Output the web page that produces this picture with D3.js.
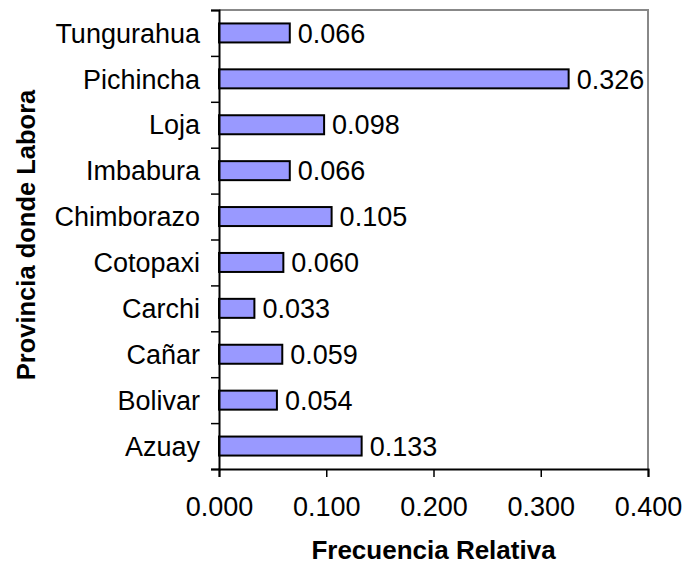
<!DOCTYPE html>
<html>
<head>
<meta charset="utf-8">
<script src="https://cdn.jsdelivr.net/npm/d3@7"></script>
<style>
  body { margin: 0; background: #fff; }
  text { font-family: "Liberation Sans", Arial, sans-serif; fill: #000; }
</style>
</head>
<body>
<script>
// provinces, top to bottom as in the chart
var provincias = ["Tungurahua", "Pichincha", "Loja", "Imbabura", "Chimborazo",
                  "Cotopaxi", "Carchi", "Cañar", "Bolivar", "Azuay"];
var frecuencias = [0.066, 0.326, 0.098, 0.066, 0.105, 0.060, 0.033, 0.059, 0.054, 0.133];
var xTicks = [0, 0.1, 0.2, 0.3, 0.4];

var width_SVG = 687, height_SVG = 567;
var plot = {left: 219, right: 648, top: 10, bottom: 469};

var svg = d3.select("body").append("svg")
    .attr("width", width_SVG)
    .attr("height", height_SVG);

var data = provincias.map(function (p, i) { return {prov: p, val: frecuencias[i]}; });

var x = d3.scaleLinear().domain([0, 0.4]).range([plot.left, plot.right]);
var y = d3.scaleBand().domain(provincias).range([plot.top, plot.bottom]).padding(0);
// boundaries between categories, for the tick marks
var yEdge = d3.scaleLinear().domain([0, provincias.length]).range([plot.top, plot.bottom]);

// grey frame top / right
svg.append("path")
    .attr("d", "M" + plot.left + "," + plot.top + "H" + plot.right + "V" + plot.bottom)
    .attr("fill", "none")
    .attr("stroke", "#888")
    .attr("stroke-width", 2);

// bars
var barH = 19;
svg.selectAll("rect.bar")
    .data(data)
    .enter()
    .append("rect")
    .attr("class", "bar")
    .attr("x", x(0))
    .attr("y", function (d) { return y(d.prov) + y.bandwidth() / 2 - barH / 2; })
    .attr("width", function (d) { return x(d.val) - x(0); })
    .attr("height", barH)
    .attr("fill", "#9999ff")
    .attr("stroke", "#000")
    .attr("stroke-width", 2);

// value labels
svg.selectAll("text.val")
    .data(data)
    .enter()
    .append("text")
    .attr("class", "val")
    .attr("x", function (d) { return x(d.val) + 8; })
    .attr("y", function (d) { return y(d.prov) + y.bandwidth() / 2; })
    .attr("dy", "0.36em")
    .style("font-size", "27px")
    .text(function (d) { return d3.format(".3f")(d.val); });

// left axis: ticks between categories
var gy = svg.append("g")
    .attr("transform", "translate(" + plot.left + ",0)")
    .call(d3.axisLeft(yEdge).tickValues(d3.range(provincias.length + 1)).tickSize(8).tickFormat(""));
gy.select(".domain").attr("stroke", "#000").attr("stroke-width", 2);
gy.selectAll(".tick line").attr("stroke", "#000").attr("stroke-width", 1.5);

// category labels
svg.selectAll("text.cat")
    .data(provincias)
    .enter()
    .append("text")
    .attr("class", "cat")
    .attr("x", 200)
    .attr("y", function (d) { return y(d) + y.bandwidth() / 2; })
    .attr("dy", "0.36em")
    .attr("text-anchor", "end")
    .style("font-size", "27px")
    .text(function (d) { return d; });

// bottom axis
var gx = svg.append("g")
    .attr("transform", "translate(0," + plot.bottom + ")")
    .call(d3.axisBottom(x).tickValues(xTicks).tickSize(8).tickPadding(20).tickFormat(d3.format(".3f")));
gx.select(".domain").attr("stroke", "#000").attr("stroke-width", 2);
gx.selectAll(".tick line").attr("stroke", "#000").attr("stroke-width", 1.5);
gx.selectAll(".tick text")
    .style("font-size", "27px")
    .style("font-family", "Liberation Sans, Arial, sans-serif")
    .attr("fill", "#000");

// titles
svg.append("text")
    .attr("x", (plot.left + plot.right) / 2)
    .attr("y", 559)
    .attr("text-anchor", "middle")
    .style("font-size", "26px")
    .style("font-weight", "bold")
    .text("Frecuencia Relativa");

svg.append("text")
    .attr("transform", "translate(34.5,235) rotate(-90)")
    .attr("text-anchor", "middle")
    .style("font-size", "25.5px")
    .style("font-weight", "bold")
    .text("Provincia donde Labora");
</script>
</body>
</html>
